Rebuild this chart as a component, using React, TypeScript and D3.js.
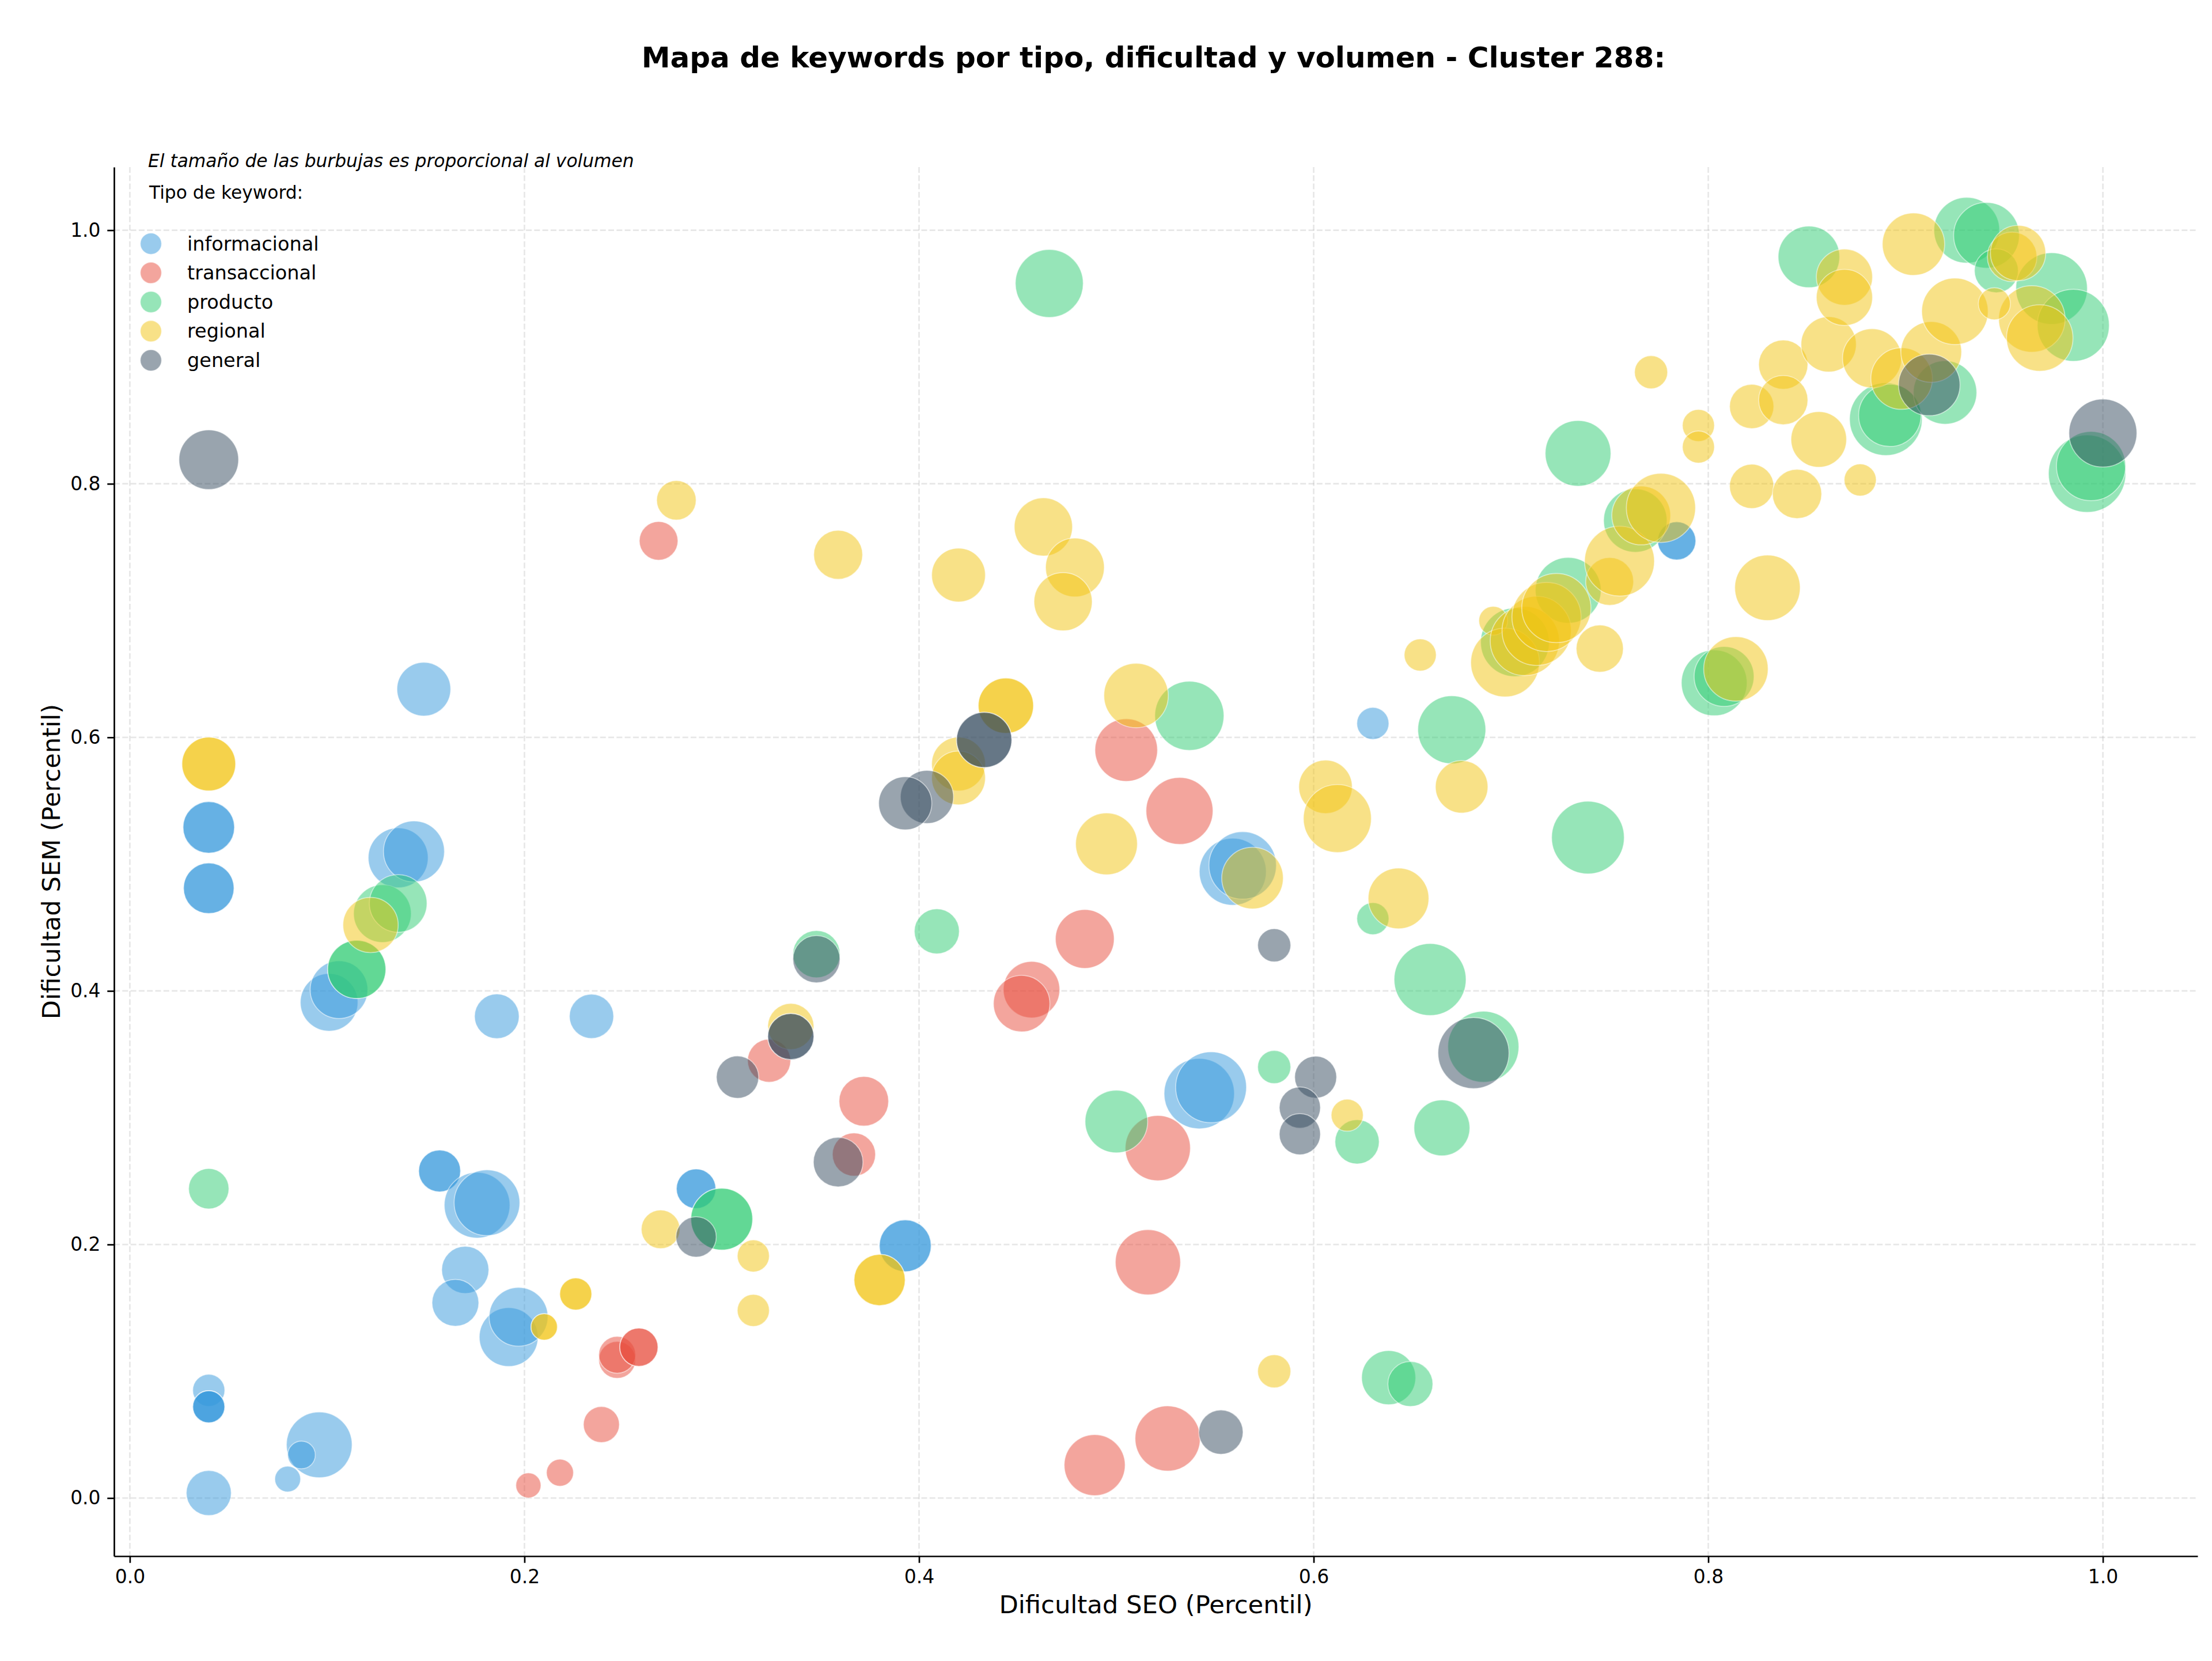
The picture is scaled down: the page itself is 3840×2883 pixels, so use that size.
import { useEffect, useRef } from "react";
import * as d3 from "d3";

// [dificultad SEO, dificultad SEM, volumen]
type Kw = [number, number, number];

const tipos = ["informacional", "transaccional", "producto", "regional", "general"];
const colores = ["#3498db", "#e74c3c", "#2ecc71", "#f1c40f", "#34495e"];

const informacional: Kw[] = [
  [0.04, 0.004, 610], [0.04, 0.085, 310], [0.04, 0.072, 310], [0.04, 0.072, 310],
  [0.04, 0.072, 310], [0.08, 0.015, 200], [0.096, 0.042, 1300], [0.087, 0.034, 230],
  [0.101, 0.391, 1000], [0.106, 0.401, 1000], [0.136, 0.505, 1080], [0.144, 0.51, 1120],
  [0.149, 0.638, 870], [0.04, 0.529, 800], [0.04, 0.529, 800], [0.04, 0.481, 770],
  [0.04, 0.481, 770], [0.186, 0.38, 600], [0.234, 0.38, 590], [0.157, 0.258, 530],
  [0.157, 0.258, 530], [0.176, 0.231, 1300], [0.181, 0.233, 1300], [0.17, 0.18, 670],
  [0.165, 0.154, 660], [0.192, 0.127, 1040], [0.197, 0.143, 1040], [0.287, 0.244, 470],
  [0.287, 0.244, 470], [0.393, 0.199, 810], [0.393, 0.199, 810], [0.542, 0.319, 1490],
  [0.548, 0.324, 1510], [0.559, 0.494, 1350], [0.564, 0.499, 1370], [0.63, 0.611, 310],
  [0.784, 0.755, 440], [0.784, 0.755, 440],
];

const transaccional: Kw[] = [
  [0.268, 0.755, 450], [0.505, 0.59, 1180], [0.532, 0.542, 1350], [0.484, 0.441, 1040],
  [0.457, 0.401, 960], [0.452, 0.39, 960], [0.324, 0.345, 560], [0.372, 0.313, 740],
  [0.367, 0.271, 560], [0.521, 0.276, 1280], [0.516, 0.186, 1280], [0.489, 0.026, 1120],
  [0.526, 0.047, 1280], [0.247, 0.109, 410], [0.247, 0.113, 410], [0.258, 0.119, 440],
  [0.258, 0.119, 440], [0.239, 0.058, 390], [0.218, 0.02, 220], [0.202, 0.01, 190],
];

const producto: Kw[] = [
  [0.466, 0.958, 1390], [0.537, 0.617, 1440], [0.5, 0.297, 1180], [0.409, 0.447, 610],
  [0.348, 0.429, 670], [0.3, 0.22, 1150], [0.3, 0.22, 1150], [0.04, 0.244, 490],
  [0.115, 0.417, 1020], [0.115, 0.417, 1020], [0.128, 0.461, 1000], [0.136, 0.469, 1000],
  [0.58, 0.34, 330], [0.622, 0.281, 590], [0.665, 0.292, 940], [0.638, 0.095, 880],
  [0.649, 0.09, 610], [0.686, 0.356, 1520], [0.659, 0.409, 1560], [0.63, 0.457, 310],
  [0.67, 0.606, 1390], [0.739, 0.521, 1590], [0.702, 0.675, 1420], [0.729, 0.716, 1300],
  [0.734, 0.824, 1300], [0.763, 0.771, 1210], [0.803, 0.643, 1300], [0.808, 0.648, 1080],
  [0.851, 0.979, 1140], [0.89, 0.851, 1590], [0.892, 0.854, 1170], [0.92, 0.872, 1210],
  [0.931, 1.0, 1300], [0.941, 0.996, 1300], [0.946, 0.968, 580], [0.974, 0.954, 1540],
  [0.985, 0.925, 1560], [0.992, 0.808, 1800], [0.994, 0.814, 1440],
];

const regional: Kw[] = [
  [0.04, 0.579, 870], [0.04, 0.579, 870], [0.122, 0.452, 920], [0.277, 0.787, 470],
  [0.359, 0.744, 720], [0.42, 0.728, 870], [0.463, 0.766, 1020], [0.479, 0.734, 1040],
  [0.473, 0.707, 1020], [0.51, 0.633, 1250], [0.444, 0.625, 920], [0.444, 0.625, 920],
  [0.42, 0.579, 870], [0.42, 0.568, 870], [0.495, 0.516, 1150], [0.335, 0.372, 640],
  [0.269, 0.212, 450], [0.316, 0.191, 310], [0.316, 0.148, 310], [0.38, 0.172, 790],
  [0.38, 0.172, 790], [0.226, 0.161, 310], [0.226, 0.161, 310], [0.21, 0.135, 210],
  [0.21, 0.135, 210], [0.569, 0.489, 1140], [0.606, 0.561, 860], [0.612, 0.536, 1390],
  [0.675, 0.561, 830], [0.654, 0.665, 310], [0.643, 0.473, 1110], [0.58, 0.1, 330],
  [0.617, 0.302, 310], [0.691, 0.692, 250], [0.697, 0.659, 1420], [0.707, 0.676, 1440],
  [0.713, 0.684, 1440], [0.718, 0.695, 1440], [0.723, 0.702, 1440], [0.745, 0.67, 670],
  [0.75, 0.723, 690], [0.755, 0.739, 1470], [0.766, 0.775, 1040], [0.776, 0.781, 1440],
  [0.771, 0.888, 330], [0.795, 0.846, 310], [0.795, 0.829, 310], [0.83, 0.718, 1290],
  [0.814, 0.654, 1250], [0.822, 0.861, 590], [0.822, 0.798, 590], [0.838, 0.894, 730],
  [0.838, 0.866, 730], [0.845, 0.792, 730], [0.856, 0.835, 930], [0.861, 0.91, 920],
  [0.877, 0.803, 310], [0.869, 0.963, 950], [0.869, 0.947, 950], [0.883, 0.899, 1050],
  [0.898, 0.883, 1140], [0.904, 0.989, 1170], [0.913, 0.904, 1110], [0.925, 0.936, 1330],
  [0.954, 0.979, 740], [0.957, 0.982, 920], [0.964, 0.93, 1330], [0.968, 0.915, 1330],
  [0.945, 0.942, 310],
];

const general: Kw[] = [
  [0.04, 0.819, 1070], [0.433, 0.598, 920], [0.433, 0.598, 920], [0.404, 0.553, 850],
  [0.393, 0.548, 850], [0.348, 0.425, 670], [0.335, 0.364, 640], [0.335, 0.364, 640],
  [0.308, 0.332, 540], [0.359, 0.265, 740], [0.287, 0.206, 490], [0.58, 0.436, 330],
  [0.601, 0.332, 530], [0.593, 0.308, 510], [0.593, 0.287, 510], [0.681, 0.351, 1520],
  [0.553, 0.052, 590], [0.912, 0.878, 1140], [1.0, 0.84, 1390],
];

const series = [informacional, transaccional, producto, regional, general];
const xTicks = [0, 0.2, 0.4, 0.6, 0.8, 1.0];
const yTicks = [0, 0.2, 0.4, 0.6, 0.8, 1.0];

const FONT = "DejaVu Sans, sans-serif";

export default function App() {
  const ref = useRef<SVGSVGElement>(null);

  useEffect(() => {
    if (!ref.current) return;
    const svg = d3.select(ref.current);
    svg.selectAll("*").remove();

    const width = 3840;
    const height = 2883;
    const margin = { top: 290, right: 25, bottom: 182, left: 198 };

    const all = series.flat();
    const [x0, x1] = d3.extent(all, (d) => d[0]) as [number, number];
    const [y0, y1] = d3.extent(all, (d) => d[1]) as [number, number];
    const px = (x1 - x0) * 0.05;
    const py = (y1 - y0) * 0.05;

    const x = d3
      .scaleLinear()
      .domain([x0 - px, x1 + px])
      .range([margin.left, width - margin.right]);
    const y = d3
      .scaleLinear()
      .domain([y0 - py, y1 + py])
      .range([height - margin.bottom, margin.top]);
    const r = d3.scaleSqrt().domain([0, 1000]).range([0, 50]);

    svg.append("rect").attr("width", width).attr("height", height).attr("fill", "#fff");

    // grid
    const grid = svg.append("g").attr("stroke", "#b0b0b0").attr("stroke-opacity", 0.3)
      .attr("stroke-width", 2.7).attr("stroke-dasharray", "10 4.3");
    xTicks.forEach((t) => {
      grid.append("line").attr("x1", x(t)).attr("x2", x(t))
        .attr("y1", margin.top).attr("y2", height - margin.bottom);
    });
    yTicks.forEach((t) => {
      grid.append("line").attr("y1", y(t)).attr("y2", y(t))
        .attr("x1", margin.left).attr("x2", width - margin.right);
    });

    svg.append("clipPath").attr("id", "plot-clip").append("rect")
      .attr("x", margin.left).attr("y", margin.top)
      .attr("width", width - margin.left - margin.right)
      .attr("height", height - margin.top - margin.bottom);

    const plot = svg.append("g").attr("clip-path", "url(#plot-clip)");
    series.forEach((data, i) => {
      plot.append("g")
        .selectAll("circle")
        .data(data)
        .join("circle")
        .attr("cx", (d) => x(d[0]))
        .attr("cy", (d) => y(d[1]))
        .attr("r", (d) => r(d[2]))
        .attr("fill", colores[i])
        .attr("fill-opacity", 0.5)
        .attr("stroke", "#fff")
        .attr("stroke-opacity", 0.5)
        .attr("stroke-width", 1.7);
    });

    // axes
    const xAxis = svg.append("g")
      .attr("transform", `translate(0,${height - margin.bottom})`)
      .call(d3.axisBottom(x).tickValues(xTicks).tickFormat(d3.format(".1f"))
        .tickSize(11.7).tickSizeOuter(0).tickPadding(11.7));
    const yAxis = svg.append("g")
      .attr("transform", `translate(${margin.left},0)`)
      .call(d3.axisLeft(y).tickValues(yTicks).tickFormat(d3.format(".1f"))
        .tickSize(11.7).tickSizeOuter(0).tickPadding(11.7));
    [xAxis, yAxis].forEach((g) => {
      g.selectAll("path, line").attr("stroke", "#000").attr("stroke-width", 2.7);
      g.selectAll("text").attr("font-family", FONT).attr("font-size", 33).attr("fill", "#000");
    });

    svg.append("text")
      .attr("x", (margin.left + width - margin.right) / 2)
      .attr("y", 2800)
      .attr("text-anchor", "middle")
      .attr("font-family", FONT)
      .attr("font-size", 43.3)
      .text("Dificultad SEO (Percentil)");

    svg.append("text")
      .attr("transform", `translate(104,${(margin.top + height - margin.bottom) / 2}) rotate(-90)`)
      .attr("text-anchor", "middle")
      .attr("font-family", FONT)
      .attr("font-size", 43.3)
      .text("Dificultad SEM (Percentil)");

    svg.append("text")
      .attr("x", (margin.left + width - margin.right) / 2 - 4)
      .attr("y", 117)
      .attr("text-anchor", "middle")
      .attr("font-family", FONT)
      .attr("font-weight", "bold")
      .attr("font-size", 50)
      .text("Mapa de keywords por tipo, dificultad y volumen - Cluster 288:");

    svg.append("text")
      .attr("x", 257)
      .attr("y", 290)
      .attr("font-family", FONT)
      .attr("font-style", "italic")
      .attr("font-size", 31.3)
      .text("El tamaño de las burbujas es proporcional al volumen");

    // legend
    const legend = svg.append("g");
    legend.append("text")
      .attr("x", 259)
      .attr("y", 345)
      .attr("font-family", FONT)
      .attr("font-size", 31.3)
      .text("Tipo de keyword:");
    tipos.forEach((t, i) => {
      const cy = 423 + i * 50.6;
      legend.append("circle")
        .attr("cx", 262).attr("cy", cy).attr("r", 18.5)
        .attr("fill", colores[i]).attr("fill-opacity", 0.5)
        .attr("stroke", "#fff").attr("stroke-opacity", 0.5).attr("stroke-width", 1.7);
      legend.append("text")
        .attr("x", 325).attr("y", cy + 11.5)
        .attr("font-family", FONT)
        .attr("font-size", 33.5)
        .text(t);
    });
  }, []);

  return (
    <svg
      ref={ref}
      width={3840}
      height={2883}
      style={{ position: "absolute", left: 0, top: 0, display: "block" }}
    />
  );
}
